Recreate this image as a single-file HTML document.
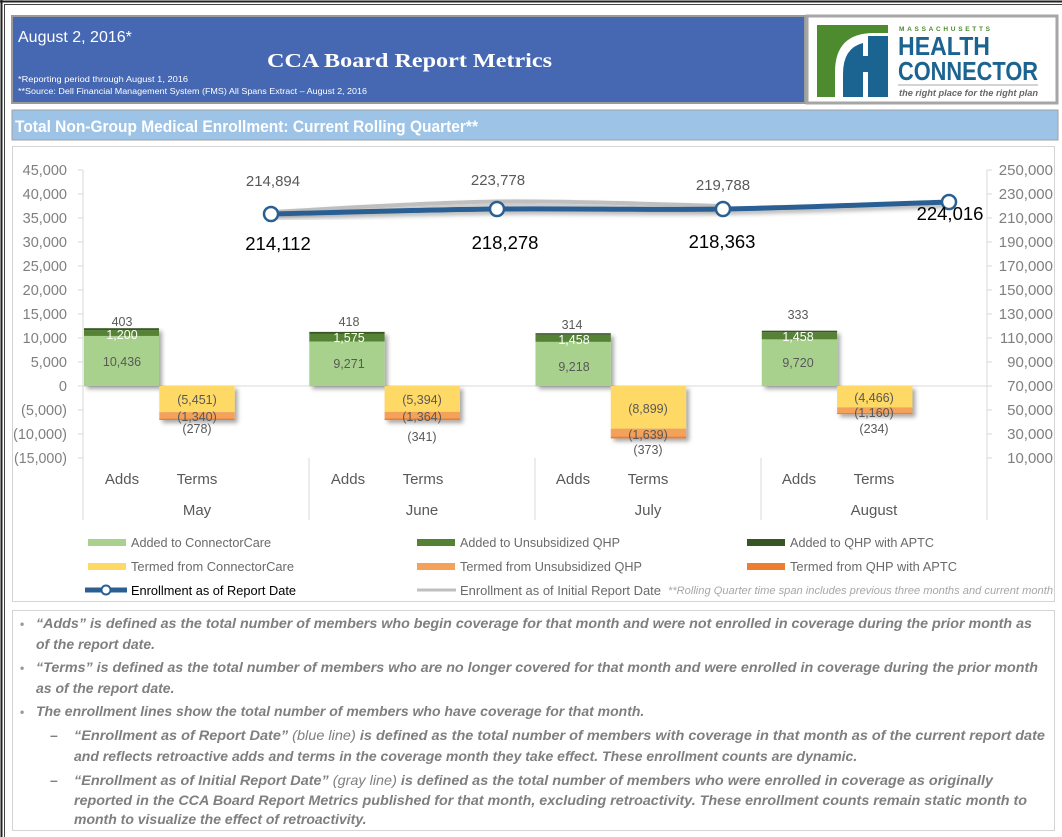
<!DOCTYPE html>
<html><head><meta charset="utf-8"><style>
html,body{margin:0;padding:0;background:#fff;}
svg{display:block;}
</style></head><body>
<svg width="1062" height="837" viewBox="0 0 1062 837" xmlns="http://www.w3.org/2000/svg" font-family="'Liberation Sans', Arial, sans-serif">
<defs>
<filter id="sh" x="-20%" y="-20%" width="150%" height="160%"><feDropShadow dx="3" dy="3" stdDeviation="2" flood-color="#000" flood-opacity="0.35"/></filter>
<filter id="lsh" x="-5%" y="-50%" width="110%" height="200%"><feDropShadow dx="2" dy="3" stdDeviation="2" flood-color="#000" flood-opacity="0.3"/></filter>
</defs>
<rect width="1062" height="837" fill="#fff"/>
<!-- outer frame -->
<line x1="0" y1="1.5" x2="1062" y2="1.5" stroke="#222" stroke-width="2"/>
<line x1="4" y1="4.5" x2="1062" y2="4.5" stroke="#444" stroke-width="1"/>
<line x1="1.5" y1="0" x2="1.5" y2="837" stroke="#222" stroke-width="2"/>
<line x1="4.5" y1="4" x2="4.5" y2="837" stroke="#444" stroke-width="1"/>

<!-- header -->
<rect x="12" y="16" width="793" height="87" fill="#4668B2" stroke="#9a9a9a" stroke-width="2"/>
<text x="18" y="42" font-size="16" fill="#fff">August 2, 2016*</text>
<text x="267" y="67" font-size="20" font-weight="bold" fill="#fff" font-family="'Liberation Serif', serif" textLength="285" lengthAdjust="spacingAndGlyphs">CCA Board Report Metrics</text>
<text x="18" y="82" font-size="8.5" fill="#fff" textLength="170" lengthAdjust="spacingAndGlyphs">*Reporting period through August 1, 2016</text>
<text x="18" y="94" font-size="8.5" fill="#fff" textLength="349" lengthAdjust="spacingAndGlyphs">**Source: Dell Financial Management System (FMS) All Spans Extract – August 2, 2016</text>

<!-- logo -->
<rect x="807" y="16" width="250" height="87" fill="#fff" stroke="#a6a6a6" stroke-width="3"/>
<rect x="817" y="25" width="71" height="72" fill="#4E8A2E"/>
<path d="M835,97 L835,72 Q835,33 874,33 L888,33 L888,97 Z" fill="#fff"/>
<path d="M843,97 L843,74 Q843,48 863,43 L863,97 Z" fill="#1B6390"/>
<rect x="868" y="36" width="20" height="61" fill="#1B6390"/>
<rect x="862" y="56" width="7" height="16" fill="#1B6390"/>
<text x="899" y="31" font-size="6.5" font-weight="bold" fill="#4E8A2E" textLength="91" lengthAdjust="spacing">MASSACHUSETTS</text>
<text x="898" y="55" font-size="25.5" font-weight="bold" fill="#1B6390" textLength="92" lengthAdjust="spacingAndGlyphs">HEALTH</text>
<text x="898" y="80" font-size="25.5" font-weight="bold" fill="#1B6390" textLength="140" lengthAdjust="spacingAndGlyphs">CONNECTOR</text>
<line x1="898" y1="85" x2="1038" y2="85" stroke="#aaa" stroke-width="1"/>
<text x="899" y="96" font-size="9" font-weight="bold" font-style="italic" fill="#666" textLength="139" lengthAdjust="spacingAndGlyphs">the right place for the right plan</text>

<!-- section bar -->
<rect x="12" y="110" width="1046" height="30" fill="#9DC3E6" stroke="#a0a0a0" stroke-width="1"/>
<text x="15" y="132" font-size="17" font-weight="bold" fill="#fff" textLength="463" lengthAdjust="spacingAndGlyphs">Total Non-Group Medical Enrollment: Current Rolling Quarter**</text>

<!-- chart box -->
<rect x="12.5" y="146.5" width="1042" height="455" fill="#fff" stroke="#d4d4d4" stroke-width="1"/>

<!-- axes -->
<g stroke="#d9d9d9" stroke-width="1">
<line x1="83" y1="170" x2="83" y2="520"/>
<line x1="987" y1="170" x2="987" y2="520"/>
<line x1="309" y1="458" x2="309" y2="520"/>
<line x1="535" y1="458" x2="535" y2="520"/>
<line x1="761" y1="458" x2="761" y2="520"/>
<line x1="83" y1="386" x2="987" y2="386"/>
<line x1="78" y1="170" x2="83" y2="170"/><line x1="78" y1="194" x2="83" y2="194"/><line x1="78" y1="218" x2="83" y2="218"/><line x1="78" y1="242" x2="83" y2="242"/><line x1="78" y1="266" x2="83" y2="266"/><line x1="78" y1="290" x2="83" y2="290"/><line x1="78" y1="314" x2="83" y2="314"/><line x1="78" y1="338" x2="83" y2="338"/><line x1="78" y1="362" x2="83" y2="362"/><line x1="78" y1="386" x2="83" y2="386"/><line x1="78" y1="410" x2="83" y2="410"/><line x1="78" y1="434" x2="83" y2="434"/><line x1="78" y1="458" x2="83" y2="458"/>
<line x1="987" y1="170" x2="992" y2="170"/><line x1="987" y1="194" x2="992" y2="194"/><line x1="987" y1="218" x2="992" y2="218"/><line x1="987" y1="242" x2="992" y2="242"/><line x1="987" y1="266" x2="992" y2="266"/><line x1="987" y1="290" x2="992" y2="290"/><line x1="987" y1="314" x2="992" y2="314"/><line x1="987" y1="338" x2="992" y2="338"/><line x1="987" y1="362" x2="992" y2="362"/><line x1="987" y1="386" x2="992" y2="386"/><line x1="987" y1="410" x2="992" y2="410"/><line x1="987" y1="434" x2="992" y2="434"/><line x1="987" y1="458" x2="992" y2="458"/>
</g>
<g font-size="14.5" fill="#7f7f7f" text-anchor="end">
<text x="67" y="175">45,000</text><text x="67" y="199">40,000</text><text x="67" y="223">35,000</text><text x="67" y="247">30,000</text><text x="67" y="271">25,000</text><text x="67" y="295">20,000</text><text x="67" y="319">15,000</text><text x="67" y="343">10,000</text><text x="67" y="367">5,000</text><text x="67" y="391">0</text><text x="67" y="415">(5,000)</text><text x="67" y="439" textLength="54" lengthAdjust="spacingAndGlyphs">(10,000)</text><text x="67" y="463" textLength="53" lengthAdjust="spacingAndGlyphs">(15,000)</text>
</g>
<g font-size="15" fill="#7f7f7f" text-anchor="end">
<text x="1053" y="175">250,000</text><text x="1053" y="199">230,000</text><text x="1053" y="223">210,000</text><text x="1053" y="247">190,000</text><text x="1053" y="271">170,000</text><text x="1053" y="295">150,000</text><text x="1053" y="319">130,000</text><text x="1053" y="343">110,000</text><text x="1053" y="367">90,000</text><text x="1053" y="391">70,000</text><text x="1053" y="415">50,000</text><text x="1053" y="439">30,000</text><text x="1053" y="463">10,000</text>
</g>

<!-- bars -->
<g filter="url(#sh)">
<rect x="84" y="335.9" width="75" height="50.1" fill="#A9D18E"/><rect x="84" y="330.1" width="75" height="5.8" fill="#548235"/><rect x="84" y="328.2" width="75" height="1.9" fill="#375623"/>
</g>
<g filter="url(#sh)">
<rect x="159.3" y="386" width="75.3" height="26.2" fill="#FFD966"/><rect x="159.3" y="412.2" width="75.3" height="6.4" fill="#F4A15A"/><rect x="159.3" y="418.6" width="75.3" height="1.4" fill="#ED7D31"/>
</g>
<g filter="url(#sh)">
<rect x="309.3" y="341.5" width="75.3" height="44.5" fill="#A9D18E"/><rect x="309.3" y="333.9" width="75.3" height="7.6" fill="#548235"/><rect x="309.3" y="331.9" width="75.3" height="2" fill="#375623"/>
</g>
<g filter="url(#sh)">
<rect x="384.6" y="386" width="75.3" height="25.9" fill="#FFD966"/><rect x="384.6" y="411.9" width="75.3" height="6.5" fill="#F4A15A"/><rect x="384.6" y="418.4" width="75.3" height="1.7" fill="#ED7D31"/>
</g>
<g filter="url(#sh)">
<rect x="535.5" y="341.8" width="75.3" height="44.2" fill="#A9D18E"/><rect x="535.5" y="334.8" width="75.3" height="7" fill="#548235"/><rect x="535.5" y="333.2" width="75.3" height="1.6" fill="#375623"/>
</g>
<g filter="url(#sh)">
<rect x="610.8" y="386" width="75.3" height="42.7" fill="#FFD966"/><rect x="610.8" y="428.7" width="75.3" height="7.9" fill="#F4A15A"/><rect x="610.8" y="436.6" width="75.3" height="1.8" fill="#ED7D31"/>
</g>
<g filter="url(#sh)">
<rect x="761.8" y="339.3" width="75.3" height="46.7" fill="#A9D18E"/><rect x="761.8" y="332.3" width="75.3" height="7" fill="#548235"/><rect x="761.8" y="330.7" width="75.3" height="1.6" fill="#375623"/>
</g>
<g filter="url(#sh)">
<rect x="837.1" y="386" width="75.3" height="21.4" fill="#FFD966"/><rect x="837.1" y="407.4" width="75.3" height="5.6" fill="#F4A15A"/><rect x="837.1" y="413" width="75.3" height="1.1" fill="#ED7D31"/>
</g>

<!-- bar labels -->
<g font-size="12.5" fill="#595959" text-anchor="middle">
<text x="122" y="326">403</text><text x="122" y="366">10,436</text>
<text x="197" y="404">(5,451)</text><text x="197" y="421">(1,340)</text><text x="197" y="433">(278)</text>
<text x="349" y="326">418</text><text x="349" y="368">9,271</text>
<text x="422" y="404">(5,394)</text><text x="422" y="421">(1,364)</text><text x="422" y="441">(341)</text>
<text x="572" y="329">314</text><text x="574" y="371">9,218</text>
<text x="648" y="413">(8,899)</text><text x="648" y="439">(1,639)</text><text x="648" y="454">(373)</text>
<text x="798" y="319">333</text><text x="798" y="367">9,720</text>
<text x="874" y="402">(4,466)</text><text x="874" y="417">(1,160)</text><text x="874" y="433">(234)</text>
</g>
<g font-size="12.5" fill="#fff" text-anchor="middle">
<text x="122" y="339">1,200</text><text x="349" y="342">1,575</text><text x="574" y="344">1,458</text><text x="798" y="341">1,458</text>
</g>

<!-- lines -->
<path d="M271,212 C308.7,210.25 421.7,202.5 497,201.5 C572.3,200.5 685.3,205.25 723,206" fill="none" stroke="#BFBFBF" stroke-width="4" stroke-linecap="round" filter="url(#lsh)"/>
<path d="M271,214 C308.7,213.2 421.7,209.8 497,209 C572.3,208.2 647.7,210.2 723,209 C798.3,207.8 911.3,203.2 949,202" fill="none" stroke="#2A5F93" stroke-width="5" stroke-linecap="round" filter="url(#lsh)"/>
<g fill="#fff" stroke="#2A5F93" stroke-width="2.5">
<circle cx="271" cy="214" r="7"/><circle cx="497" cy="209" r="7"/><circle cx="723" cy="209" r="7"/><circle cx="949" cy="202" r="7"/>
</g>
<g font-size="15" fill="#595959" text-anchor="middle">
<text x="273" y="186">214,894</text><text x="498" y="185">223,778</text><text x="723" y="190">219,788</text>
</g>
<g font-size="18.5" fill="#000" text-anchor="middle">
<text x="278" y="250">214,112</text><text x="505" y="249">218,278</text><text x="722" y="248">218,363</text><text x="950" y="220">224,016</text>
</g>

<!-- category labels -->
<g font-size="15" fill="#595959" text-anchor="middle">
<text x="122" y="484">Adds</text><text x="197" y="484">Terms</text>
<text x="348" y="484">Adds</text><text x="423" y="484">Terms</text>
<text x="573" y="484">Adds</text><text x="648" y="484">Terms</text>
<text x="799" y="484">Adds</text><text x="874" y="484">Terms</text>
<text x="197" y="515">May</text><text x="422" y="515">June</text><text x="648" y="515">July</text><text x="874" y="515">August</text>
</g>

<!-- legend -->
<rect x="88" y="539" width="38" height="7" fill="#A9D18E"/>
<rect x="417" y="539" width="38" height="7" fill="#548235"/>
<rect x="747" y="539" width="38" height="7" fill="#375623"/>
<rect x="88" y="563" width="38" height="7" fill="#FFD966"/>
<rect x="417" y="563" width="38" height="7" fill="#F4A15A"/>
<rect x="747" y="563" width="38" height="7" fill="#ED7D31"/>
<line x1="85" y1="590" x2="127" y2="590" stroke="#2A5F93" stroke-width="5"/>
<circle cx="106" cy="590" r="4.5" fill="#fff" stroke="#2A5F93" stroke-width="2"/>
<line x1="417" y1="590" x2="456" y2="590" stroke="#BFBFBF" stroke-width="3"/>
<g font-size="13" fill="#6a6a6a">
<text x="131" y="547" textLength="140" lengthAdjust="spacingAndGlyphs">Added to ConnectorCare</text>
<text x="131" y="571" textLength="163" lengthAdjust="spacingAndGlyphs">Termed from ConnectorCare</text>
<text x="131" y="595" textLength="165" lengthAdjust="spacingAndGlyphs" fill="#000">Enrollment as of Report Date</text>
<text x="460" y="547" textLength="160" lengthAdjust="spacingAndGlyphs">Added to Unsubsidized QHP</text>
<text x="460" y="571" textLength="182" lengthAdjust="spacingAndGlyphs">Termed from Unsubsidized QHP</text>
<text x="460" y="595" textLength="201" lengthAdjust="spacingAndGlyphs">Enrollment as of Initial Report Date</text>
<text x="790" y="547" textLength="144" lengthAdjust="spacingAndGlyphs">Added to QHP with APTC</text>
<text x="790" y="571" textLength="167" lengthAdjust="spacingAndGlyphs">Termed from QHP with APTC</text>
</g>
<text x="668" y="594" font-size="11" font-style="italic" fill="#a6a6a6" textLength="385" lengthAdjust="spacingAndGlyphs">**Rolling Quarter time span includes previous three months and current month</text>

<!-- notes box -->
<rect x="12.5" y="610.5" width="1042" height="220" fill="#fff" stroke="#d4d4d4" stroke-width="1"/>
<g font-size="14" font-weight="bold" font-style="italic" fill="#7f7f7f">
<text x="20" y="628" font-style="normal" font-size="12" fill="#999">•</text>
<text x="36" y="628" textLength="996" lengthAdjust="spacingAndGlyphs">“Adds” is defined as the total number of members who begin coverage for that month and were not enrolled in coverage during the prior month as</text>
<text x="36" y="649">of the report date.</text>
<text x="20" y="672" font-style="normal" font-size="12" fill="#999">•</text>
<text x="36" y="672" textLength="1002" lengthAdjust="spacingAndGlyphs">“Terms” is defined as the total number of members who are no longer covered for that month and were enrolled in coverage during the prior month</text>
<text x="36" y="693">as of the report date.</text>
<text x="20" y="716" font-style="normal" font-size="12" fill="#999">•</text>
<text x="36" y="716">The enrollment lines show the total number of members who have coverage for that month.</text>
<text x="50" y="740" font-style="normal">–</text>
<text x="74" y="740" textLength="971" lengthAdjust="spacingAndGlyphs">“Enrollment as of Report Date” <tspan font-weight="normal">(blue line)</tspan> is defined as the total number of members with coverage in that month as of the current report date</text>
<text x="74" y="761">and reflects retroactive adds and terms in the coverage month they take effect. These enrollment counts are dynamic.</text>
<text x="50" y="785" font-style="normal">–</text>
<text x="74" y="785" textLength="919" lengthAdjust="spacingAndGlyphs">“Enrollment as of Initial Report Date” <tspan font-weight="normal">(gray line)</tspan> is defined as the total number of members who were enrolled in coverage as originally</text>
<text x="74" y="805" textLength="953" lengthAdjust="spacingAndGlyphs">reported in the CCA Board Report Metrics published for that month, excluding retroactivity. These enrollment counts remain static month to</text>
<text x="74" y="824">month to visualize the effect of retroactivity.</text>
</g>
</svg>
</body></html>
